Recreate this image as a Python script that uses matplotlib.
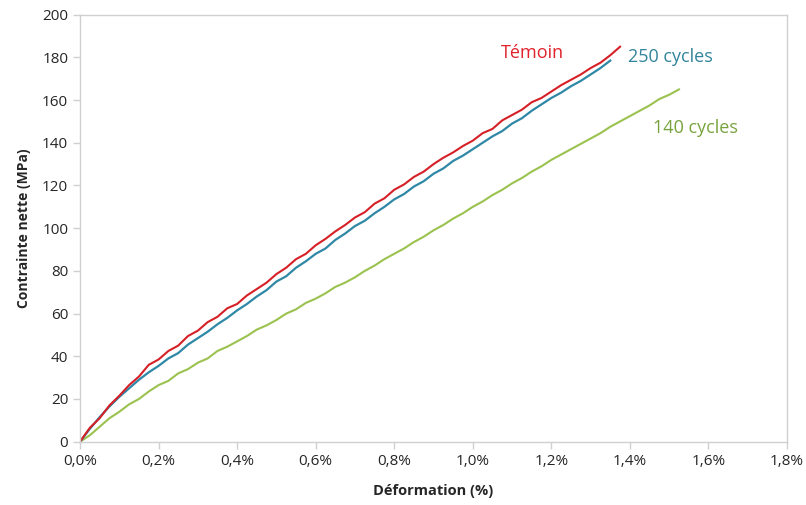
import matplotlib
matplotlib.use("Agg")
import matplotlib.pyplot as plt
from matplotlib.ticker import FuncFormatter

# --- data (strain in %, stress in MPa) ---
strain = [0.0, 0.025, 0.05, 0.075, 0.1, 0.125, 0.15, 0.175, 0.2, 0.225, 0.25, 0.275, 0.3, 0.325,
          0.35, 0.375, 0.4, 0.425, 0.45, 0.475, 0.5, 0.525, 0.55, 0.575, 0.6, 0.625, 0.65, 0.675,
          0.7, 0.725, 0.75, 0.775, 0.8, 0.825, 0.85, 0.875, 0.9, 0.925, 0.95, 0.975, 1.0, 1.025,
          1.05, 1.075, 1.1, 1.125, 1.15, 1.175, 1.2, 1.225, 1.25, 1.275, 1.3, 1.325, 1.35, 1.375,
          1.4, 1.425, 1.45, 1.475, 1.5, 1.525]

temoin = [0, 6.5, 11, 17, 21.5, 26.5, 30.5, 36, 38.5, 42.5, 45, 49.5, 52, 56, 58.5, 62.5, 64.5,
          68.5, 71.5, 74.5, 78.5, 81.5, 85.5, 88, 92, 95, 98.5, 101.5, 105, 107.5, 111.5, 114,
          118, 120.5, 124, 126.5, 130, 133, 135.5, 138.5, 141, 144.5, 146.5, 150.5, 153, 155.5,
          159, 161, 164, 167, 169.5, 172, 175, 177.5, 181, 185]

cycles_250 = [0, 6, 11.5, 16.5, 21, 25, 29, 32.5, 35.5, 39, 41.5, 45.5, 48.5, 51.5, 55, 58,
              61.5, 64.5, 68, 71, 75, 77.5, 81.5, 84.5, 88, 90.5, 94.5, 97.5, 101, 103.5, 107,
              110, 113.5, 116, 119.5, 122, 125.5, 128, 131.5, 134, 137, 140, 143, 145.5, 149,
              151.5, 155, 158, 161, 163.5, 166.5, 169, 172, 175, 178.5]

cycles_140 = [0, 3, 7, 11, 14, 17.5, 20, 23.5, 26.5, 28.5, 32, 34, 37, 39, 42.5, 44.5, 47, 49.5,
              52.5, 54.5, 57, 60, 62, 65, 67, 69.5, 72.5, 74.5, 77, 80, 82.5, 85.5, 88, 90.5,
              93.5, 96, 99, 101.5, 104.5, 107, 110, 112.5, 115.5, 118, 121, 123.5, 126.5, 129,
              132, 134.5, 137, 139.5, 142, 144.5, 147.5, 150, 152.5, 155, 157.5, 160.5, 162.5,
              165]

x_ticks = [0.0, 0.2, 0.4, 0.6, 0.8, 1.0, 1.2, 1.4, 1.6, 1.8]
y_ticks = [0, 20, 40, 60, 80, 100, 120, 140, 160, 180, 200]

red = "#D62027"
blue = "#2F88A6"
green = "#9BC24F"

plt.rcParams['font.family'] = ['Open Sans', 'DejaVu Sans']

fig = plt.figure(figsize=(8.06, 5.05), dpi=100)
ax = fig.add_axes([80 / 806, 1 - 441.7 / 505, (787 - 80) / 806, (441.7 - 14.7) / 505])

ax.plot(strain[:len(cycles_140)], cycles_140, color=green, lw=1.5)
ax.plot(strain[:len(cycles_250)], cycles_250, color=blue, lw=1.6)
ax.plot(strain[:len(temoin)], temoin, color=red, lw=1.5)

ax.set_xlim(0, 1.8)
ax.set_ylim(0, 200)
ax.set_xticks(x_ticks)
ax.set_yticks(y_ticks)
ax.xaxis.set_major_formatter(FuncFormatter(lambda v, p: f"{v:.1f}%".replace(".", ",")))
ax.tick_params(labelsize=11, colors="#D0D0D0", labelcolor="#262626", length=5, width=1)
for s in ax.spines.values():
    s.set_color("#D0D0D0")
    s.set_linewidth(1)

ax.set_xlabel("Déformation (%)", fontsize=10.5, fontweight="bold", color="#262626", labelpad=11)
ax.set_ylabel("Contrainte nette (MPa)", fontsize=10, fontweight="bold", color="#262626", labelpad=8)

ax.text(1.152, 182, "Témoin", color="#E0222B", fontsize=13, ha="center", va="center")
ax.text(1.394, 180, "250 cycles", color="#31849B", fontsize=13, ha="left", va="center")
ax.text(1.46, 147, "140 cycles", color="#77A33C", fontsize=13, ha="left", va="center")

fig.savefig("out.png", dpi=100)
